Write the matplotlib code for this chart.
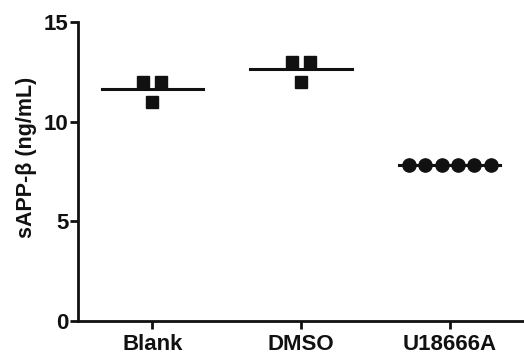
import matplotlib
matplotlib.use("Agg")
import matplotlib.pyplot as plt
import numpy as np

plt.rcParams['font.family'] = ['Liberation Sans', 'DejaVu Sans']

categories = ["Blank", "DMSO", "U18666A"]
blank_vals = [12.0, 11.0, 12.0]
dmso_vals = [13.0, 12.0, 13.0]
u18_vals = [7.85, 7.85, 7.85, 7.85, 7.85, 7.85]
yticks = [0, 5, 10, 15]

fig = plt.figure(figsize=(5.24, 3.56), dpi=100)
ax = fig.add_axes([0.149, 0.098, 0.851, 0.840])

# Blank and DMSO: squares
for i, vals in enumerate([blank_vals, dmso_vals]):
    xc = i + 1
    offs = [-0.06, 0.0, 0.06]
    ax.plot([xc + o for o in offs], vals, linestyle='none', marker='s',
            markersize=9, color='#111111', zorder=3)
    m = np.mean(vals)
    ax.plot([xc - 0.34, xc + 0.34], [m, m], color='#111111', lw=2.2, zorder=2)

# U18666A: circles
xc = 3
n = len(u18_vals)
offs = (np.arange(n) - (n - 1) / 2) * 0.11
ax.plot(xc + offs, u18_vals, linestyle='none', marker='o', markersize=9.5,
        color='#111111', zorder=3)
m = np.mean(u18_vals)
ax.plot([xc - 0.34, xc + 0.34], [m, m], color='#111111', lw=2.2, zorder=2)

ax.set_xlim(0.5, 3.5)
ax.set_ylim(0, 15)
ax.set_yticks(yticks)
ax.set_xticks([1, 2, 3])
ax.set_xticklabels(categories, fontweight='bold', fontsize=16, color='#111111')
for lab in ax.get_yticklabels():
    lab.set_fontweight('bold')
    lab.set_fontsize(16)
    lab.set_color('#111111')
ax.set_ylabel("sAPP-β (ng/mL)", fontweight='bold', fontsize=15.5, color='#111111', labelpad=5)
ax.yaxis.label.set_y(0.548)

for s in ['top', 'right']:
    ax.spines[s].set_visible(False)
for s in ['left', 'bottom']:
    ax.spines[s].set_linewidth(2.0)
    ax.spines[s].set_color('#111111')
ax.tick_params(axis='y', width=2.0, length=6, color='#111111', pad=1)
ax.tick_params(axis='x', width=2.0, length=6, color='#111111', pad=3)

fig.savefig("out.png", dpi=100)
